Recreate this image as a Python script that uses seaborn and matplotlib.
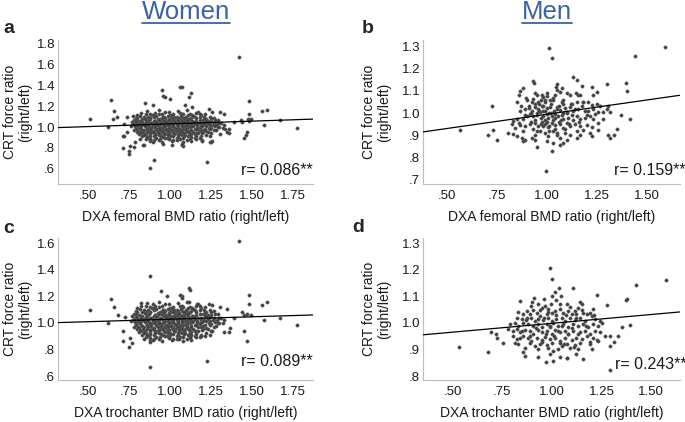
import numpy as np
import matplotlib.pyplot as plt
import seaborn as sns
from matplotlib.lines import Line2D

sns.set_theme(style="white")
plt.rcParams['font.family'] = ['Liberation Sans', 'DejaVu Sans']

# ---- women: dense core (same look in femoral and trochanter panels) ----
women_core_x = [
    .86, .93, .99, 1.05, 1.10, 1.17,
    .82, .88, .91, .97, 1.02, 1.06, 1.12, 1.16, 1.21,
    .80, .84, .89, .93, .96, 1.00, 1.04, 1.08, 1.11, 1.15, 1.19, 1.24,
    .79, .83, .86, .90, .94, .97, 1.01, 1.03, 1.07, 1.10, 1.13, 1.18, 1.22, 1.27,
    .78, .81, .85, .88, .91, .95, .98, 1.00, 1.04, 1.06, 1.09, 1.12, 1.16, 1.20, 1.23, 1.29,
    .77, .80, .83, .86, .89, .92, .94, .97, 1.00, 1.02, 1.05, 1.08, 1.11, 1.14, 1.17, 1.21, 1.25, 1.31,
    .78, .81, .84, .87, .90, .93, .96, .99, 1.01, 1.04, 1.07, 1.09, 1.12, 1.15, 1.19, 1.23, 1.27, 1.33,
    .76, .80, .82, .85, .88, .91, .94, .97, 1.00, 1.02, 1.05, 1.08, 1.10, 1.14, 1.18, 1.22, 1.26, 1.30,
    .79, .82, .86, .89, .92, .95, .98, 1.00, 1.03, 1.06, 1.09, 1.12, 1.15, 1.18, 1.21, 1.25, 1.29,
    .78, .81, .84, .87, .90, .93, .96, .99, 1.02, 1.04, 1.07, 1.10, 1.13, 1.17, 1.22, 1.27,
    .80, .83, .86, .89, .92, .95, .98, 1.01, 1.03, 1.06, 1.09, 1.12, 1.16, 1.20, 1.25,
    .81, .85, .88, .91, .94, .97, 1.00, 1.03, 1.06, 1.09, 1.13, 1.17, 1.22,
    .83, .87, .90, .93, .97, 1.00, 1.04, 1.07, 1.11, 1.15, 1.19,
    .85, .90, .94, .98, 1.02, 1.06, 1.10, 1.16,
    .88, .95, 1.01, 1.08, 1.13,
    .91, .95, .99, 1.03, 1.07, 1.11, .93, .97, 1.01, 1.05, 1.09, .92, .96,
    1.00, 1.04, 1.08, .94, .98, 1.02, 1.06, .90, 1.10, .95, 1.00, 1.05,
    # in-between rows
    .85, .90, .95, 1.01, 1.07, 1.135, 1.18,
    .815, .865, .915, .955, .985, 1.025, 1.065, 1.095, 1.14, 1.205,
    .80, .845, .875, .925, .965, .995, 1.02, 1.055, 1.085, 1.115, 1.155, 1.215, 1.25,
    .79, .825, .87, .90, .935, .965, .99, 1.015, 1.045, 1.075, 1.105, 1.135, 1.18, 1.22, 1.275,
    .79, .82, .855, .885, .915, .945, .975, 1.005, 1.03, 1.055, 1.085, 1.115, 1.145, 1.19, 1.24, 1.30,
    .775, .805, .835, .865, .895, .925, .955, .985, 1.015, 1.045, 1.075, 1.105, 1.13, 1.165, 1.205, 1.245, 1.285,
    .785, .815, .845, .875, .905, .935, .965, .99, 1.015, 1.045, 1.075, 1.10, 1.135, 1.165, 1.195, 1.235, 1.275, 1.32,
    .795, .83, .86, .885, .915, .945, .975, 1.005, 1.035, 1.065, 1.095, 1.125, 1.16, 1.20, 1.24, 1.28,
    .805, .835, .865, .895, .925, .955, .985, 1.015, 1.045, 1.075, 1.105, 1.14, 1.185, 1.23,
    .815, .845, .875, .905, .935, .965, .995, 1.025, 1.055, 1.085, 1.115, 1.15, 1.195,
    .84, .875, .905, .945, .985, 1.015, 1.05, 1.085, 1.12, 1.16,
    .86, .915, .955, .995, 1.045, 1.08, 1.125, 1.18,
    .875, .93, .99, 1.04, 1.12,
]
women_core_y = [
    1.15, 1.16, 1.14, 1.15, 1.16, 1.14,
    1.13, 1.12, 1.13, 1.14, 1.12, 1.13, 1.12, 1.13, 1.12,
    1.11, 1.10, 1.11, 1.12, 1.10, 1.11, 1.10, 1.12, 1.11, 1.10, 1.11, 1.10,
    1.09, 1.08, 1.09, 1.10, 1.08, 1.09, 1.10, 1.08, 1.09, 1.08, 1.09, 1.10, 1.08, 1.09,
    1.07, 1.06, 1.07, 1.08, 1.06, 1.07, 1.06, 1.08, 1.07, 1.06, 1.07, 1.08, 1.06, 1.07, 1.06, 1.07,
    1.05, 1.04, 1.05, 1.06, 1.04, 1.05, 1.04, 1.06, 1.05, 1.04, 1.05, 1.06, 1.04, 1.05, 1.04, 1.05, 1.06, 1.04,
    1.03, 1.02, 1.03, 1.04, 1.02, 1.03, 1.02, 1.04, 1.03, 1.02, 1.03, 1.04, 1.02, 1.03, 1.02, 1.03, 1.04, 1.02,
    1.01, 1.00, 1.01, 1.02, 1.00, 1.01, 1.00, 1.02, 1.01, 1.00, 1.01, 1.02, 1.00, 1.01, 1.00, 1.01, 1.02, 1.00,
    .99, .98, .99, 1.00, .98, .99, .98, 1.00, .99, .98, .99, 1.00, .98, .99, .98, .99, 1.00,
    .97, .96, .97, .98, .96, .97, .96, .98, .97, .96, .97, .98, .96, .97, .96, .97,
    .95, .94, .95, .96, .94, .95, .94, .96, .95, .94, .95, .96, .94, .95, .94,
    .93, .92, .93, .94, .92, .93, .92, .94, .93, .92, .93, .94, .92,
    .91, .90, .91, .92, .90, .91, .90, .92, .91, .90, .91,
    .89, .88, .89, .90, .88, .89, .88, .89,
    .87, .86, .87, .86, .87,
    1.06, 1.07, 1.05, 1.06, 1.04, 1.05, 1.02, 1.01, 1.02, 1.00, 1.01, .98, .97,
    .98, .97, .98, .95, .96, .95, .96, 1.00, .96, 1.09, 1.08, 1.09,
    # in-between rows
    1.125, 1.115, 1.125, 1.115, 1.125, 1.115, 1.125,
    1.105, 1.095, 1.105, 1.095, 1.105, 1.095, 1.105, 1.095, 1.105, 1.095,
    1.085, 1.075, 1.085, 1.075, 1.085, 1.075, 1.085, 1.075, 1.085, 1.075, 1.085, 1.075, 1.085,
    1.065, 1.055, 1.065, 1.055, 1.065, 1.055, 1.065, 1.055, 1.065, 1.055, 1.065, 1.055, 1.065, 1.055, 1.065,
    1.045, 1.035, 1.045, 1.035, 1.045, 1.035, 1.045, 1.035, 1.045, 1.035, 1.045, 1.035, 1.045, 1.035, 1.045, 1.035,
    1.025, 1.015, 1.025, 1.015, 1.025, 1.015, 1.025, 1.015, 1.025, 1.015, 1.025, 1.015, 1.025, 1.015, 1.025, 1.015, 1.025,
    1.005, .995, 1.005, .995, 1.005, .995, 1.005, .995, 1.005, .995, 1.005, .995, 1.005, .995, 1.005, .995, 1.005, .995,
    .985, .975, .985, .975, .985, .975, .985, .975, .985, .975, .985, .975, .985, .975, .985, .975,
    .965, .955, .965, .955, .965, .955, .965, .955, .965, .955, .965, .955, .965, .955,
    .945, .935, .945, .935, .945, .935, .945, .935, .945, .935, .945, .935, .945,
    .925, .915, .925, .915, .925, .915, .925, .915, .925, .915,
    .905, .895, .905, .895, .905, .895, .905, .895,
    .885, .875, .885, .875, .885,
]

# ---- women femoral (a): scattered points outside the core ----
women_fem_x = [
    1.42, .51, .64, .62, .66, .675, .655,
    .711, .75, .752, .756, .72, .74, .78, .84,
    .90, .876, 1.226, 1.075, 1.077, 1.01, 1.195, 1.24, 1.24,
    1.333, 1.36, 1.449, 1.46, 1.47, 1.43, 1.48, 1.48, 1.475, 1.49,
    1.56, 1.587, 1.573, 1.669, 1.774,
    1.06, 1.075, .95, 1.124, 1.112, .955, .97, 1.00,
    .847, .898, 1.091, 1.132, 1.234, 1.254, 1.305, 1.325,
    .736, .776, .719, .715, .786, .817, .837, .878, .898, .959, 1.071,
    1.193, 1.254, 1.248, 1.305, 1.346, 1.356, 1.386, 1.437, 1.478,
]
women_fem_y = [
    1.67, 1.08, 1.26, 1.00, 1.15, 1.10, 1.08,
    .797, .74, .775, .816, .91, .95, .81, .83,
    .69, .61, .67, .83, .816, .83, .88, .86, .91,
    .98, .94, .90, .92, .95, 1.07, 1.12, 1.25, 1.08, 1.08,
    1.155, 1.165, 1.02, 1.07, .99,
    1.378, 1.38, 1.35, 1.32, 1.283, 1.292, 1.29, 1.267,
    1.229, 1.21, 1.21, 1.187, 1.171, 1.14, 1.14, 1.124,
    1.092, 1.108, 1.029, .918, .86, .886, .829, .886, .854, .838, .838,
    .87, .87, .854, .933, .949, .981, 1.045, 1.045, 1.06,
]

# ---- women trochanter (c): scattered points outside the core ----
women_tro_x = [
    1.42, .514, .642, .659, .622, .68, .876, .947, 1.116, 1.122, 1.07,
    .713, .75, .77, .88, .876, 1.226, 1.19, 1.21, 1.24, 1.33, 1.36, 1.45,
    1.467, 1.48, 1.48, 1.45, 1.47, 1.49, 1.56, 1.587, 1.573, 1.67, 1.774,
    .98, 1.057, 1.071, 1.112, 1.163, .821, .898, 1.234, 1.254, 1.305, 1.346,
    1.386, 1.437, .725, .715, .756, .841, .898, 1.051, 1.122, 1.254, 1.366,
]
women_tro_y = [
    1.614, 1.10, 1.18, 1.12, 1.00, 1.06, 1.35, 1.24, 1.26, 1.244, 1.20,
    .86, .82, .85, .855, .666, .71, .90, .90, .91, .93, .93, .94,
    .86, 1.21, 1.14, 1.06, 1.07, 1.06, 1.135, 1.16, 1.02, 1.04, .98,
    1.201, 1.211, 1.186, 1.16, 1.143, 1.151, 1.143, 1.143, 1.131, 1.118, 1.106,
    1.035, 1.08, 1.043, .935, .884, .879, .874, .879, .897, .942, .96,
]

# ---- men femoral (b) ----
men_fem_x = [
    .932, .935, .878, .865, 1.052, 1.045, 1.132, 1.148, 1.173, 1.223, 1.248, 1.232, 1.298,
    .848, .723, .895, .932, .948, .973, .982, .990, .998, 1.015, .957, .923, .940, 1.032, 1.040,
    1.065, 1.073, 1.052, 1.098, 1.115, 1.145, 1.157, 1.165, 1.182, 1.148, 1.123, 1.082, 1.073,
    1.207, 1.223, 1.248, 1.265, 1.298,
    .865, .890, .912, .923, .940, .957, .973, .982, .998, 1.015, 1.035, 1.052, 1.065,
    1.090, 1.102, 1.115, 1.132, 1.157, 1.173, 1.190, 1.207, 1.232, 1.240, 1.257, 1.282, 1.307,
    .832, .848, .862, .882, .898, .915, .932, .948, .965, .982, .998, 1.007, 1.023,
    1.040, 1.057, 1.073, 1.082, 1.107, 1.123, 1.148, 1.165, 1.190, 1.215, 1.232, 1.257, 1.282,
    .823, .840, .865, .890, .915, .940, .957, .973, .990, 1.007, 1.023,
    1.040, 1.065, 1.082, 1.098, 1.115, 1.140, 1.165, 1.198, 1.223, 1.257,
    .732, .807, .832, .848, .873, .890, .923, .940, .965, .990, 1.007,
    1.032, 1.048, 1.065, 1.090, 1.115, 1.148, 1.165, 1.182, 1.215, .948,
    .707, .748, .882, .940, .998, 1.032, 1.065, 1.082, 1.098, 1.148, 1.223, 1.307,
    1.010, 1.025, 1.442, 1.592, .563, .993, 1.025, 1.397, 1.400, 1.413, 1.368, 1.352, 1.333, 1.317, 1.317,
    .95, .97, .99, 1.01, 1.03, .96, .92, 1.00, 1.02, .98, .94, 1.05, 1.06, .91, .99, 1.04, .93, 1.01, .97, 1.08,
    .87, .89, .90, .92, .94, .95, .96, .97, .98, .99, 1.00, 1.01, 1.02, 1.03, 1.04,
    1.05, 1.06, 1.07, 1.08, 1.09, 1.10, 1.11, 1.12, 1.13, 1.14, 1.16, 1.18, 1.20, .88, .86,
]
men_fem_y = [
    1.144, 1.134, 1.114, 1.098, 1.129, 1.118, 1.164, 1.149, 1.123, 1.118, 1.095, 1.083, 1.129,
    1.049, 1.031, 1.068, 1.065, 1.080, 1.083, 1.072, 1.061, 1.077, 1.057, 1.052, 1.049, 1.042, 1.068, 1.083,
    1.095, 1.111, 1.103, 1.092, 1.080, 1.092, 1.080, 1.083, 1.049, 1.049, 1.042, 1.042, 1.049,
    1.049, 1.037, 1.042, 1.034, 1.018,
    1.011, 1.018, 1.022, 1.011, 1.026, 1.018, 1.031, 1.011, 1.022, 1.026, 1.011, 1.026, 1.015,
    1.022, 1.006, 1.026, 1.011, 1.018, 1.031, 1.011, 1.011, 1.018, .995, 1.006, 1.003, 1.034,
    .965, .972, .957, .975, .988, .995, .985, .991, 1.003, .988, .995, .980, .988,
    .995, .985, .991, .972, .980, .991, .988, .972, .980, .988, .972, .957, .972,
    .949, .934, .945, .942, .949, .957, .942, .960, .949, .939, .957,
    .945, .949, .934, .957, .942, .949, .942, .945, .939, .926,
    .926, .911, .908, .896, .888, .880, .888, .903, .919, .911, .896,
    .919, .903, .888, .911, .903, .919, .903, .926, .911, .846,
    .903, .880, .873, .880, .873, .865, .857, .868, .880, .888, .896, .903,
    1.290, 1.246, 1.257, 1.295, .923, .739, .830, 1.137, 1.098, .972, .991, .929, .903, .888, 1.006,
    1.00, .98, 1.01, 1.00, .97, 1.04, 1.00, .96, 1.04, .94, .97, 1.02, .96, 1.03, 1.05, .93, .93, .92, 1.06, 1.00,
    1.03, .99, 1.06, .96, 1.09, .92, 1.01, .95, 1.03, .97, 1.09, .94, 1.00, 1.06, .98,
    .91, 1.03, .97, 1.06, .93, 1.00, .95, 1.04, .97, 1.02, .96, 1.05, .99, .92, 1.08,
]

# ---- men trochanter (d) ----
men_tro_x = [
    1.037, 1.015, 1.108, 1.225, 1.045, .909, .961, .838, 1.023, .993, 1.074, 1.141, 1.150, 1.276,
    1.209, 1.192, 1.133, 1.116,
    .897, .931, .948, .965, .981, .906, .872, .855, .889, .923, .939, .973, .998, 1.015, 1.040,
    1.057, 1.082, 1.099, 1.124, 1.158, 1.175, 1.200,
    .822, .847, .872, .897, .914, .931, .956, .981, .998, 1.023, 1.049, 1.066, 1.091, 1.116,
    1.141, 1.167, 1.217, 1.242,
    .788, .813, .830, .855, .880, .906, .931, .948, .973, .990, 1.007, 1.032, 1.057, 1.082,
    1.108, 1.133, 1.158, 1.183, 1.209, 1.234, 1.251,
    .695, .717, .721, .779, .805, .822, .838, .864, .889, .906, .931, .948, .973, .998,
    1.015, 1.040, 1.066, 1.082, 1.108, 1.141, 1.167, 1.192, 1.217, 1.242,
    .805, .822, .838, .855, .880, .897, .923, .948, .965, .990, 1.015, 1.040, 1.066, 1.099,
    1.124, 1.150, 1.175, 1.209, 1.234, 1.268,
    .754, .813, .830, .889, .914, .939, .973, .998, 1.049, 1.074, 1.116, 1.141, 1.192, 1.225,
    .864, .931, .981, 1.007, 1.032, 1.091, 1.133, 1.200, 1.040,
    .678, .855, .864, .931, .990, 1.040, 1.074, 1.124, 1.158,
    .989, 1.001, 1.422, 1.573, 1.381, 1.376, 1.393, 1.351, 1.331, 1.295, 1.314, 1.292,
    .534, .969, 1.006, 1.076, 1.292,
    .87, .89, .90, .92, .94, .95, .96, .97, .98, .99, 1.00, 1.01, 1.02, 1.03, 1.04,
    1.05, 1.06, 1.07, 1.08, 1.09, 1.10, 1.11, 1.12, 1.13, 1.15, 1.17, 1.19, 1.21, .85, .83,
]
men_tro_y = [
    1.130, 1.118, 1.133, 1.105, 1.102, 1.095, 1.089, 1.083, 1.085, 1.070, 1.070, 1.080, 1.073, 1.068,
    1.052, 1.039, 1.058, 1.045,
    1.064, 1.070, 1.058, 1.064, 1.052, 1.048, 1.045, 1.033, 1.033, 1.039, 1.026, 1.033, 1.039, 1.045, 1.052,
    1.039, 1.045, 1.033, 1.033, 1.039, 1.033, 1.026,
    1.020, 1.014, 1.018, 1.020, 1.008, 1.014, 1.010, 1.018, 1.008, 1.014, 1.020, 1.008, 1.018, 1.010,
    1.020, 1.008, 1.014, 1.008,
    .995, 1.001, .989, .998, .995, .989, .995, .985, .995, .985, .998, .989, .995, .985,
    .995, .989, .995, .983, .995, .989, 1.001,
    .964, .960, .942, .976, .970, .976, .964, .973, .970, .960, .973, .964, .970, .960,
    .973, .964, .970, .958, .968, .964, .970, .958, .970, .964,
    .951, .939, .945, .951, .942, .932, .945, .935, .948, .939, .945, .932, .942, .935,
    .945, .939, .951, .942, .932, .951,
    .926, .926, .920, .926, .914, .922, .917, .926, .914, .922, .917, .926, .920, .935,
    .907, .901, .907, .895, .901, .907, .901, .901, .926,
    .889, .889, .876, .872, .882, .870, .867, .882, .864,
    1.208, 1.164, 1.142, 1.160, 1.091, 1.086, .991, .986, .949, .949, .929, .914,
    .910, .851, .857, .867, .823,
    1.01, .95, 1.08, .98, 1.05, .93, 1.02, .96, 1.04, .99, 1.10, .95, 1.03, .97, 1.07,
    .99, .92, 1.03, .96, 1.06, .98, .91, 1.02, .96, 1.05, .99, .93, 1.03, .97, 1.04,
]

# fitted lines: (intercept, slope)
fit_women_fem = (0.978, 0.052)
fit_men_fem = (0.867, 0.128)
fit_women_tro = (0.990, 0.037)
fit_men_tro = (0.932, 0.0665)

r_labels = ["r= 0.086**", "r= 0.159**", "r= 0.089**", "r= 0.243**"]

women_xticks = [0.50, 0.75, 1.00, 1.25, 1.50, 1.75]
women_xticklabels = [".50", ".75", "1.00", "1.25", "1.50", "1.75"]
men_xticks = [0.50, 0.75, 1.00, 1.25, 1.50]
men_xticklabels = [".50", ".75", "1.00", "1.25", "1.50"]
yticks_a = [0.6, 0.8, 1.0, 1.2, 1.4, 1.6, 1.8]
yticklabels_a = [".6", ".8", "1.0", "1.2", "1.4", "1.6", "1.8"]
yticks_b = [0.7, 0.8, 0.9, 1.0, 1.1, 1.2, 1.3]
yticklabels_b = [".7", ".8", ".9", "1.0", "1.1", "1.2", "1.3"]
yticks_c = [0.6, 0.8, 1.0, 1.2, 1.4, 1.6]
yticklabels_c = [".6", ".8", "1.0", "1.2", "1.4", "1.6"]
yticks_d = [0.8, 0.9, 1.0, 1.1, 1.2, 1.3]
yticklabels_d = [".8", ".9", "1.0", "1.1", "1.2", "1.3"]

fig = plt.figure(figsize=(6.85, 4.22), dpi=100)

W, H = 685, 422


def make_ax(left, top, right, bottom):
    return fig.add_axes([left / W, 1 - bottom / H, (right - left) / W, (bottom - top) / H])


def panel(ax, xs, ys, fit, xlim, ylim, xticks, xtl, yticks, ytl, xlabel, rtext, rx, ry, ylab_x):
    sns.scatterplot(x=xs, y=ys, ax=ax, s=6, color="#3f3f3f", edgecolor="#6a6a6a",
                    linewidth=0.3, zorder=2)
    ax.axline((0, fit[0]), slope=fit[1], color="black", lw=0.9, zorder=3)
    ax.set_xlim(*xlim)
    ax.set_ylim(*ylim)
    ax.set_xticks(xticks)
    ax.set_xticklabels(xtl)
    ax.set_yticks(yticks)
    ax.set_yticklabels(ytl)
    ax.tick_params(length=0, labelsize=9.5, colors="#1a1a1a")
    ax.tick_params(axis="x", pad=4)
    ax.tick_params(axis="y", pad=2)
    sns.despine(ax=ax)
    for s in ["left", "bottom"]:
        ax.spines[s].set_color("#bdbdbd")
        ax.spines[s].set_linewidth(0.8)
    ax.set_xlabel(xlabel, fontsize=10, labelpad=6, color="#1a1a1a")
    ax.set_ylabel("CRT force ratio\n(right/left)", fontsize=10,
                  linespacing=1.05, color="#1a1a1a")
    ax.yaxis.set_label_coords(ylab_x, 0.5)
    ax.text(rx, ry, rtext, transform=ax.transAxes, ha="right", va="center",
            fontsize=11.5, color="#1a1a1a")


ax_a = make_ax(58, 40, 313, 184)
panel(ax_a, women_core_x + women_fem_x, women_core_y + women_fem_y, fit_women_fem,
      (0.317, 1.87), (0.457, 1.829), women_xticks, women_xticklabels, yticks_a, yticklabels_a,
      "DXA femoral BMD ratio (right/left)", r_labels[0], 1.0, 0.097, -0.102)

ax_b = make_ax(423, 40, 680, 184)
panel(ax_b, men_fem_x, men_fem_y, fit_men_fem,
      (0.38, 1.665), (0.682, 1.328), men_xticks, men_xticklabels, yticks_b, yticklabels_b,
      "DXA femoral BMD ratio (right/left)", r_labels[1], 1.02, 0.097, -0.125)

ax_c = make_ax(58, 238, 313, 380)
panel(ax_c, women_core_x + women_tro_x, women_core_y + women_tro_y, fit_women_tro,
      (0.317, 1.87), (0.57, 1.638), women_xticks, women_xticklabels, yticks_c, yticklabels_c,
      "DXA trochanter BMD ratio (right/left)", r_labels[2], 1.0, 0.127, -0.102)

ax_d = make_ax(423, 238, 680, 380)
panel(ax_d, men_tro_x, men_tro_y, fit_men_tro,
      (0.35, 1.646), (0.785, 1.32), men_xticks, men_xticklabels, yticks_d, yticklabels_d,
      "DXA trochanter BMD ratio (right/left)", r_labels[3], 1.025, 0.106, -0.125)

# panel letters
for lab, x, y in [("a", 3, 33), ("b", 362, 33), ("c", 3, 233), ("d", 352, 232)]:
    fig.text(x / W, 1 - y / H, lab, fontsize=14, fontweight="bold", va="baseline", ha="left")

# underlined group titles
title_color = "#3a62a7"
titles = []
for name, cx in [("Women", 186), ("Men", 547)]:
    titles.append(fig.text(cx / W, 1 - 19 / H, name, fontsize=18.5, color=title_color,
                           ha="center", va="baseline"))
fig.canvas.draw()
inv = fig.transFigure.inverted()
for t in titles:
    bb = t.get_window_extent()
    (x0, _), (x1, _) = inv.transform([(bb.x0, bb.y0), (bb.x1, bb.y1)])
    fig.add_artist(Line2D([x0, x1], [1 - 22.7 / H] * 2, color=title_color, lw=1.3,
                          transform=fig.transFigure))

fig.savefig("out.png", dpi=100)
